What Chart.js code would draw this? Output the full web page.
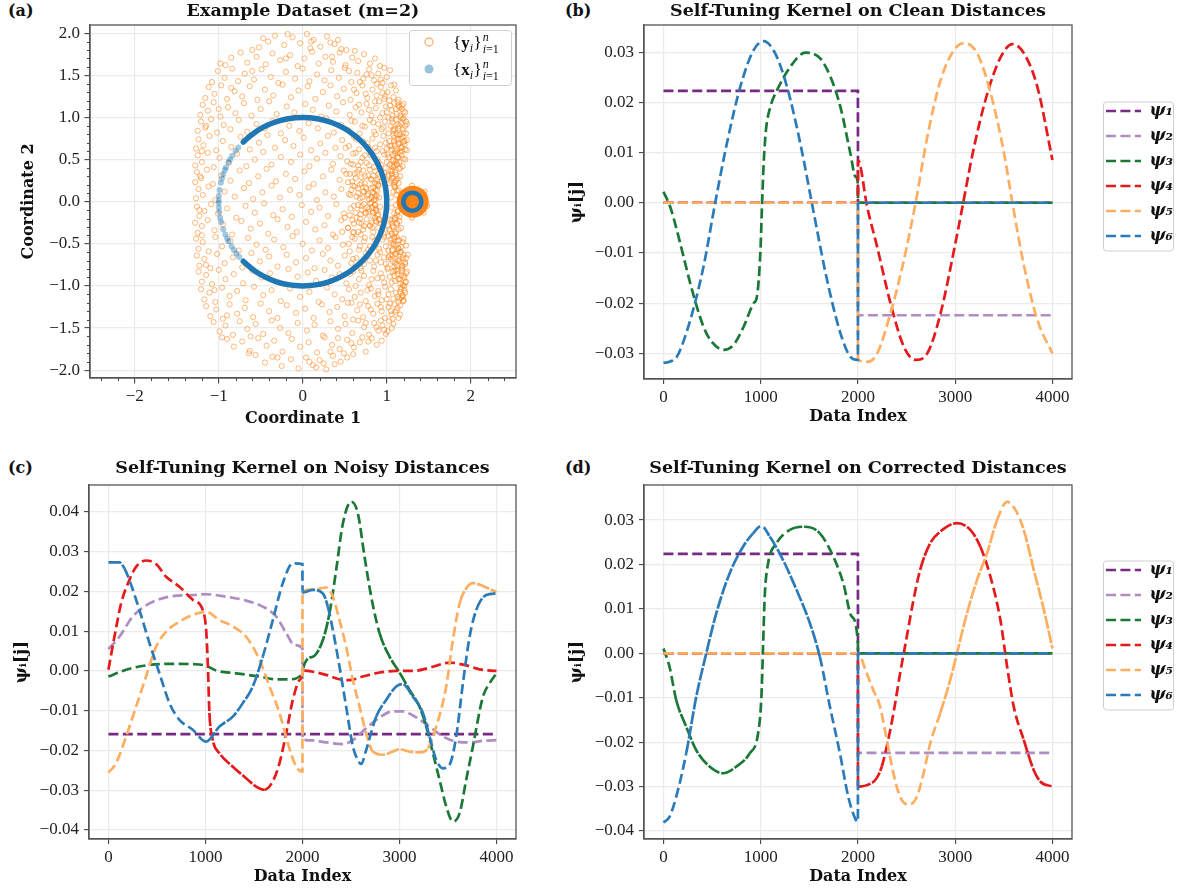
<!DOCTYPE html>
<html><head><meta charset="utf-8">
<script src="https://cdn.jsdelivr.net/npm/chart.js@4.4.0/dist/chart.umd.min.js"></script>
<style>
html,body{margin:0;padding:0;background:#fff;width:1178px;height:890px;overflow:hidden}
canvas{position:absolute}
.plab{position:absolute;font:bold 16px 'DejaVu Serif',serif;color:#111;line-height:19px}
</style></head><body>
<div class="plab" style="left:8px;top:1px">(a)</div>
<div class="plab" style="left:565px;top:1px">(b)</div>
<div class="plab" style="left:8px;top:458px">(c)</div>
<div class="plab" style="left:565px;top:458px">(d)</div>
<canvas id="ca" width="560" height="445" style="left:0;top:0"></canvas>
<canvas id="cb" width="618" height="445" style="left:560px;top:0"></canvas>
<canvas id="cc" width="560" height="445" style="left:0;top:445px"></canvas>
<canvas id="cd" width="618" height="445" style="left:560px;top:445px"></canvas>
<script>
// ---------------- DATA ----------------
// Panel (a): noisy points y_i
const yCloud = [
[-0.52,1.83],[-0.41,1.9],[-0.33,1.97],[-0.22,1.86],[-0.12,1.95],[-0.03,1.88],[0.05,1.99],[0.13,1.92],[0.21,1.84],[0.29,1.96],[0.38,1.87],[0.46,1.81],[-0.6,1.8],[-0.18,1.99],[0.09,1.82],[0.33,1.89],[0.52,1.8],[-0.47,1.94],
[-0.92,1.62],[-0.85,1.71],[-0.74,1.77],[-0.66,1.65],[-0.55,1.72],[-0.44,1.63],[-0.36,1.76],[-0.27,1.68],[-0.15,1.74],[-0.06,1.61],[0.02,1.7],[0.11,1.78],[0.19,1.64],[0.27,1.72],[0.36,1.66],[0.44,1.77],[0.51,1.62],[0.59,1.71],[0.66,1.67],[0.73,1.75],[0.8,1.64],[0.86,1.7],[0.92,1.61],[0.62,1.79],[-0.98,1.64],
[-1.08,1.42],[-1.01,1.55],[-0.93,1.47],[-0.84,1.58],[-0.77,1.43],[-0.69,1.52],[-0.58,1.45],[-0.49,1.57],[-0.38,1.48],[-0.29,1.41],[-0.2,1.54],[-0.09,1.46],[0.0,1.58],[0.08,1.43],[0.17,1.51],[0.26,1.44],[0.34,1.56],[0.43,1.47],[0.5,1.59],[0.58,1.42],[0.65,1.53],[0.72,1.46],[0.79,1.57],[0.85,1.44],[0.9,1.52],[0.95,1.41],[1.0,1.48],[1.04,1.56],[0.97,1.59],[0.88,1.4],[0.76,1.51],
[-1.16,1.23],[-1.12,1.36],[-1.05,1.28],[-0.97,1.38],[-0.9,1.22],[-0.81,1.31],[-0.72,1.25],[-0.63,1.37],[-0.54,1.21],[-0.45,1.33],[-0.35,1.26],[-0.24,1.39],[-0.14,1.24],[-0.05,1.32],[0.06,1.37],[0.15,1.22],[0.24,1.3],[0.33,1.38],[0.41,1.25],[0.49,1.34],[0.57,1.21],[0.64,1.29],[0.71,1.38],[0.77,1.23],[0.83,1.33],[0.88,1.26],[0.93,1.36],[0.97,1.22],[1.01,1.3],[1.05,1.38],[1.08,1.24],[1.11,1.32],[1.14,1.21],[1.03,1.2],[0.95,1.29],[1.09,1.39],
[-1.22,1.03],[-1.19,1.15],[-1.13,1.08],[-1.06,1.18],[-0.98,1.01],[-0.89,1.12],[-0.8,1.05],[-0.7,1.17],[-0.61,1.02],[-0.5,1.1],[-0.4,1.19],[-0.31,1.04],[-0.19,1.13],[-0.1,1.06],[0.03,1.16],[0.12,1.09],[0.22,1.01],[0.31,1.14],[0.4,1.07],[0.48,1.18],[0.56,1.03],[0.63,1.12],[0.7,1.06],[0.76,1.16],[0.82,1.02],[0.87,1.11],[0.91,1.19],[0.95,1.05],[0.99,1.13],[1.02,1.0],[1.06,1.09],[1.09,1.17],[1.12,1.04],[1.15,1.12],[1.17,1.0],[1.13,1.18],[1.2,1.07],[1.07,1.02],[1.18,1.14],[1.11,1.1],
[-1.25,0.84],[-1.21,0.95],[-1.16,0.88],[-1.09,0.98],[-1.02,0.82],[-0.94,0.91],[-0.86,0.86],[-0.76,0.97],[-0.66,0.83],[-0.55,0.92],[-0.45,0.87],[-0.36,0.96],[-0.26,0.81],[-0.16,0.9],[-0.04,0.84],[0.07,0.93],[0.18,0.87],[0.28,0.99],[0.37,0.82],[0.46,0.91],[0.54,0.85],[0.62,0.95],[0.68,0.81],[0.74,0.89],[0.8,0.97],[0.85,0.83],[0.9,0.92],[0.94,0.86],[0.98,0.95],[1.02,0.81],[1.05,0.9],[1.08,0.84],[1.11,0.97],[1.14,0.87],[1.17,0.93],[1.2,0.82],[1.22,0.9],[1.16,0.8],[1.13,0.92],[1.19,0.98],[1.1,0.86],[1.23,0.95],[1.07,0.94],
[-1.27,0.63],[-1.24,0.74],[-1.18,0.67],[-1.11,0.78],[-1.03,0.61],[-0.95,0.72],[-0.85,0.65],[-0.74,0.77],[-0.63,0.62],[-0.52,0.7],[-0.42,0.79],[-0.33,0.64],[-0.21,0.73],[-0.11,0.66],[0.01,0.76],[0.1,0.61],[0.21,0.69],[0.3,0.78],[0.39,0.64],[0.47,0.73],[0.55,0.66],[0.61,0.77],[0.67,0.62],[0.72,0.71],[0.78,0.65],[0.83,0.75],[0.88,0.6],[0.92,0.68],[0.96,0.78],[1.0,0.63],[1.03,0.72],[1.06,0.66],[1.09,0.76],[1.12,0.61],[1.14,0.7],[1.17,0.64],[1.19,0.77],[1.21,0.68],[1.24,0.73],[1.15,0.79],[1.1,0.68],[1.18,0.6],[1.22,0.62],[1.13,0.74],[1.2,0.71],
[-1.28,0.43],[-1.25,0.55],[-1.2,0.47],[-1.13,0.58],[-1.06,0.41],[-0.99,0.52],[-0.88,0.46],[-0.78,0.57],[-0.67,0.42],[-0.57,0.5],[-0.47,0.59],[-0.37,0.44],[-0.26,0.53],[-0.14,0.47],[-0.03,0.56],[0.08,0.42],[0.17,0.51],[0.27,0.58],[0.36,0.45],[0.45,0.54],[0.53,0.48],[0.6,0.57],[0.66,0.43],[0.71,0.52],[0.76,0.46],[0.81,0.55],[0.85,0.41],[0.89,0.5],[0.93,0.44],[0.97,0.56],[1.0,0.47],[1.03,0.53],[1.06,0.42],[1.08,0.5],[1.1,0.57],[1.12,0.45],[1.14,0.52],[1.16,0.4],[1.18,0.55],[1.11,0.48],[1.13,0.58],[1.09,0.43],[1.15,0.47],[1.07,0.55],[1.2,0.51],
[-1.28,0.23],[-1.26,0.35],[-1.21,0.28],[-1.14,0.38],[-1.07,0.21],[-0.97,0.31],[-0.86,0.25],[-0.75,0.37],[-0.64,0.22],[-0.53,0.3],[-0.43,0.39],[-0.32,0.24],[-0.2,0.33],[-0.09,0.27],[0.02,0.36],[0.13,0.21],[0.24,0.3],[0.34,0.38],[0.44,0.26],[0.52,0.33],[0.59,0.24],[0.65,0.35],[0.7,0.29],[0.74,0.22],[0.78,0.31],[0.82,0.26],[0.86,0.36],[0.88,0.21],[0.91,0.29],[0.94,0.24],[0.97,0.34],[1.02,0.3],[1.05,0.25],[1.07,0.37],[1.09,0.2],[1.11,0.32],[1.13,0.27],[1.15,0.39],[1.06,0.33],[1.1,0.23],[1.08,0.28],[0.8,0.38],[0.68,0.2],[0.9,0.33],
[-1.27,0.04],[-1.24,0.15],[-1.19,0.08],[-1.12,0.18],[-1.04,0.02],[-0.93,0.12],[-0.81,0.06],[-0.7,0.16],[-0.59,0.03],[-0.48,0.11],[-0.37,0.19],[-0.27,0.05],[-0.15,0.14],[-0.04,0.08],[0.07,0.17],[0.17,0.02],[0.27,0.11],[0.37,0.06],[0.46,0.15],[0.55,0.09],[0.62,0.18],[0.68,0.04],[0.73,0.12],[0.77,0.07],[0.81,0.16],[0.85,0.1],[0.87,0.03],[0.89,0.13],[0.9,0.19],[0.88,0.07],[0.91,0.05],[1.05,0.05],[1.08,0.12],[1.1,0.17],[1.12,0.08],[1.14,0.14],[1.16,0.03],
[-1.26,-0.06],[-1.23,-0.17],[-1.17,-0.11],[-1.09,-0.03],[-1.01,-0.14],[-0.9,-0.08],[-0.79,-0.19],[-0.68,-0.05],[-0.57,-0.13],[-0.46,-0.02],[-0.35,-0.16],[-0.24,-0.09],[-0.13,-0.18],[-0.01,-0.04],[0.1,-0.12],[0.2,-0.07],[0.3,-0.17],[0.4,-0.03],[0.49,-0.14],[0.57,-0.08],[0.64,-0.19],[0.7,-0.05],[0.75,-0.13],[0.79,-0.09],[0.83,-0.17],[0.86,-0.04],[0.88,-0.11],[0.9,-0.15],[0.87,-0.08],[0.92,-0.06],[1.06,-0.07],[1.09,-0.14],[1.11,-0.04],[1.13,-0.11],[1.15,-0.18],[1.12,-0.16],
[-1.28,-0.25],[-1.25,-0.37],[-1.2,-0.29],[-1.13,-0.22],[-1.05,-0.34],[-0.95,-0.27],[-0.84,-0.39],[-0.73,-0.23],[-0.62,-0.32],[-0.51,-0.26],[-0.41,-0.38],[-0.3,-0.21],[-0.18,-0.3],[-0.07,-0.36],[0.04,-0.24],[0.15,-0.33],[0.26,-0.28],[0.36,-0.39],[0.46,-0.22],[0.54,-0.31],[0.61,-0.37],[0.67,-0.25],[0.72,-0.33],[0.76,-0.21],[0.8,-0.29],[0.84,-0.36],[0.87,-0.23],[0.9,-0.31],[0.93,-0.26],[0.96,-0.38],[1.01,-0.28],[1.04,-0.35],[1.06,-0.22],[1.08,-0.3],[1.1,-0.38],[1.12,-0.25],[1.14,-0.33],[1.07,-0.26],[1.09,-0.21],[0.82,-0.25],[0.69,-0.39],[0.91,-0.22],
[-1.27,-0.44],[-1.24,-0.56],[-1.19,-0.48],[-1.12,-0.59],[-1.04,-0.42],[-0.96,-0.53],[-0.86,-0.47],[-0.76,-0.58],[-0.65,-0.43],[-0.55,-0.51],[-0.44,-0.57],[-0.34,-0.45],[-0.23,-0.54],[-0.12,-0.41],[0.0,-0.5],[0.11,-0.58],[0.2,-0.46],[0.3,-0.55],[0.39,-0.42],[0.48,-0.51],[0.56,-0.59],[0.62,-0.44],[0.68,-0.53],[0.73,-0.47],[0.78,-0.57],[0.83,-0.42],[0.87,-0.5],[0.91,-0.56],[0.95,-0.45],[0.99,-0.53],[1.02,-0.41],[1.05,-0.49],[1.07,-0.57],[1.09,-0.44],[1.11,-0.52],[1.13,-0.59],[1.15,-0.46],[1.17,-0.54],[1.12,-0.42],[1.08,-0.51],[1.14,-0.56],[1.19,-0.48],[1.06,-0.58],
[-1.26,-0.64],[-1.23,-0.76],[-1.17,-0.68],[-1.1,-0.79],[-1.02,-0.62],[-0.93,-0.73],[-0.83,-0.66],[-0.72,-0.78],[-0.61,-0.61],[-0.51,-0.71],[-0.4,-0.65],[-0.3,-0.77],[-0.19,-0.63],[-0.08,-0.72],[0.04,-0.67],[0.14,-0.79],[0.24,-0.62],[0.33,-0.7],[0.42,-0.76],[0.5,-0.64],[0.58,-0.73],[0.64,-0.67],[0.69,-0.79],[0.75,-0.61],[0.8,-0.7],[0.85,-0.77],[0.89,-0.63],[0.93,-0.72],[0.97,-0.66],[1.01,-0.78],[1.04,-0.64],[1.07,-0.71],[1.1,-0.62],[1.12,-0.75],[1.15,-0.68],[1.18,-0.79],[1.2,-0.63],[1.22,-0.72],[1.16,-0.6],[1.13,-0.7],[1.19,-0.76],[1.09,-0.77],[1.23,-0.67],
[-1.24,-0.83],[-1.2,-0.95],[-1.15,-0.87],[-1.08,-0.98],[-1.0,-0.81],[-0.92,-0.92],[-0.82,-0.86],[-0.71,-0.97],[-0.6,-0.82],[-0.49,-0.9],[-0.39,-0.85],[-0.28,-0.96],[-0.17,-0.8],[-0.06,-0.89],[0.06,-0.84],[0.16,-0.94],[0.26,-0.81],[0.35,-0.9],[0.44,-0.86],[0.52,-0.97],[0.6,-0.83],[0.67,-0.92],[0.73,-0.88],[0.79,-0.99],[0.84,-0.82],[0.89,-0.91],[0.93,-0.85],[0.97,-0.96],[1.01,-0.8],[1.04,-0.89],[1.07,-0.83],[1.1,-0.94],[1.13,-0.86],[1.16,-0.97],[1.18,-0.81],[1.21,-0.9],[1.23,-0.85],[1.19,-0.99],[1.14,-0.92],[1.22,-0.96],[1.17,-0.88],[1.11,-0.81],
[-1.21,-1.04],[-1.17,-1.16],[-1.11,-1.08],[-1.04,-1.19],[-0.96,-1.02],[-0.87,-1.12],[-0.78,-1.06],[-0.68,-1.17],[-0.58,-1.01],[-0.47,-1.11],[-0.37,-1.05],[-0.26,-1.18],[-0.15,-1.03],[-0.03,-1.13],[0.08,-1.07],[0.19,-1.19],[0.29,-1.02],[0.38,-1.1],[0.47,-1.16],[0.55,-1.04],[0.62,-1.13],[0.69,-1.08],[0.75,-1.18],[0.81,-1.03],[0.86,-1.12],[0.9,-1.06],[0.94,-1.17],[0.98,-1.01],[1.02,-1.1],[1.05,-1.04],[1.08,-1.15],[1.11,-1.08],[1.14,-1.19],[1.17,-1.02],[1.19,-1.11],[1.16,-1.07],[1.2,-1.17],[1.13,-1.13],[1.21,-1.05],[1.18,-1.14],
[-1.15,-1.24],[-1.1,-1.36],[-1.03,-1.28],[-0.95,-1.39],[-0.87,-1.22],[-0.78,-1.33],[-0.69,-1.26],[-0.59,-1.37],[-0.5,-1.21],[-0.4,-1.3],[-0.3,-1.38],[-0.19,-1.23],[-0.08,-1.32],[0.03,-1.27],[0.13,-1.38],[0.23,-1.22],[0.32,-1.31],[0.41,-1.25],[0.5,-1.36],[0.58,-1.2],[0.65,-1.29],[0.72,-1.37],[0.78,-1.24],[0.84,-1.33],[0.89,-1.21],[0.94,-1.3],[0.98,-1.38],[1.02,-1.25],[1.06,-1.34],[1.09,-1.22],[1.12,-1.29],[1.14,-1.38],[1.16,-1.23],[1.1,-1.31],[1.07,-1.39],[1.13,-1.26],[1.04,-1.21],[1.16,-1.34],
[-1.06,-1.43],[-0.99,-1.54],[-0.92,-1.47],[-0.83,-1.58],[-0.75,-1.42],[-0.66,-1.51],[-0.56,-1.45],[-0.47,-1.57],[-0.37,-1.41],[-0.27,-1.5],[-0.17,-1.56],[-0.06,-1.44],[0.05,-1.53],[0.14,-1.46],[0.24,-1.59],[0.33,-1.42],[0.42,-1.51],[0.51,-1.45],[0.59,-1.56],[0.66,-1.41],[0.73,-1.49],[0.79,-1.58],[0.85,-1.44],[0.9,-1.53],[0.95,-1.47],[0.99,-1.57],[1.03,-1.42],[1.06,-1.5],[1.01,-1.54],[0.93,-1.41],[1.08,-1.45],
[-0.9,-1.63],[-0.82,-1.72],[-0.72,-1.66],[-0.63,-1.77],[-0.53,-1.62],[-0.43,-1.71],[-0.34,-1.65],[-0.24,-1.78],[-0.13,-1.63],[-0.03,-1.72],[0.07,-1.67],[0.17,-1.79],[0.26,-1.61],[0.35,-1.7],[0.44,-1.75],[0.53,-1.64],[0.61,-1.73],[0.68,-1.67],[0.75,-1.78],[0.82,-1.62],[0.88,-1.7],[0.94,-1.65],[0.71,-1.61],[-0.96,-1.61],
[-0.56,-1.82],[-0.45,-1.91],[-0.36,-1.84],[-0.25,-1.95],[-0.14,-1.87],[-0.05,-1.98],[0.04,-1.85],[0.12,-1.94],[0.2,-1.88],[0.28,-1.99],[0.36,-1.83],[0.45,-1.9],[0.53,-1.85],[0.6,-1.81],[-0.64,-1.8],[0.16,-1.97],[0.25,-1.92]
];
// extra y_i points, mostly on the right half
const yCloudExtra = [
[0.35,1.72],[0.55,1.55],[0.68,1.42],[0.82,1.5],[0.93,1.45],[0.61,1.33],[0.75,1.28],[0.86,1.19],[0.98,1.25],[1.04,1.14],[0.67,1.15],[0.79,1.09],[0.92,1.0],[1.0,1.06],[0.58,0.96],[0.71,0.9],[0.84,0.94],[0.96,0.88],[1.06,0.98],[0.64,0.74],[0.77,0.69],[0.87,0.8],[0.99,0.7],[1.08,0.79],[0.51,0.64],[0.63,0.58],[0.74,0.55],[0.86,0.64],[0.95,0.6],[0.57,0.45],[0.69,0.47],[0.79,0.43],[0.9,0.47],[0.99,0.4],[0.62,0.33],[0.72,0.37],[0.84,0.31],[0.93,0.37],[0.58,0.14],[0.66,0.1],[0.75,0.17],[0.61,-0.05],[0.69,-0.15],[0.78,-0.12],[0.59,-0.22],[0.7,-0.26],[0.83,-0.31],[0.94,-0.34],[0.6,-0.36],[0.74,-0.43],[0.86,-0.46],[0.97,-0.42],[0.55,-0.5],[0.67,-0.57],[0.8,-0.53],[0.92,-0.6],[1.02,-0.66],[0.6,-0.68],[0.73,-0.74],[0.87,-0.7],[0.99,-0.74],[1.09,-0.82],[0.56,-0.86],[0.7,-0.82],[0.82,-0.92],[0.95,-0.9],[1.06,-0.96],[0.63,-1.0],[0.77,-1.05],[0.9,-1.1],[1.0,-1.16],[0.54,-1.2],[0.68,-1.22],[0.81,-1.28],[0.93,-1.25],[1.05,-1.3],[0.6,-1.4],[0.75,-1.44],[0.88,-1.49],[0.97,-1.52],[0.42,-1.62],[0.58,-1.68],[0.78,-1.66],[0.33,-1.78],[0.49,-1.8],[-0.2,1.7],[-0.6,1.55],[-0.85,1.35],[-1.0,1.1],[-1.15,0.9],[-1.2,0.6],[-1.22,0.3],[-1.23,-0.1],[-1.2,-0.4],[-1.15,-0.75],[-1.05,-1.05],[-0.9,-1.35],[-0.62,-1.6],[-0.3,-1.85],[0.1,1.9],[0.42,1.92],[0.08,-1.9],[0.38,-1.93]
];
// Dense part of y_i near (1, 0): arms, arc and rays
const yCloudDense = [
[1.02,0.32],[1.05,0.36],[1.08,0.41],[1.1,0.35],[1.12,0.44],[1.04,0.44],[1.07,0.49],[1.13,0.53],[1.16,0.58],[1.1,0.6],[1.06,0.62],[1.18,0.65],[1.14,0.68],[1.21,0.72],[1.17,0.75],[1.12,0.8],[1.23,0.81],[1.19,0.86],[1.15,0.9],[1.24,0.92],[1.2,0.99],[1.16,1.02],[1.22,1.06],[1.18,1.1],[1.2,1.16],[1.14,1.14],[1.09,0.72],[1.04,0.66],[1.08,0.86],[1.01,0.56],[1.11,0.25],[1.09,0.18],[1.12,0.13],[1.14,0.22],[1.06,0.28],[1.03,0.22],[1.16,0.3],[1.19,0.42],[1.22,0.5],[1.24,0.61],
[1.03,-0.33],[1.06,-0.38],[1.09,-0.42],[1.11,-0.36],[1.13,-0.46],[1.05,-0.45],[1.08,-0.5],[1.14,-0.55],[1.17,-0.6],[1.11,-0.62],[1.07,-0.64],[1.19,-0.67],[1.15,-0.7],[1.22,-0.74],[1.18,-0.77],[1.13,-0.82],[1.24,-0.83],[1.2,-0.88],[1.16,-0.92],[1.23,-0.95],[1.21,-1.0],[1.17,-1.04],[1.22,-1.08],[1.19,-1.12],[1.2,-1.18],[1.15,-1.15],[1.1,-0.73],[1.05,-0.68],[1.09,-0.88],[1.02,-0.58],[1.12,-0.26],[1.1,-0.19],[1.13,-0.12],[1.15,-0.23],[1.07,-0.29],[1.04,-0.21],[1.17,-0.31],[1.2,-0.44],[1.23,-0.52],[1.25,-0.63],
[0.86,0.22],[0.84,0.17],[0.83,0.11],[0.82,0.05],[0.82,-0.01],[0.83,-0.07],[0.84,-0.13],[0.86,-0.19],[0.88,-0.24],[0.89,0.26],[0.87,0.14],[0.86,0.06],[0.86,-0.04],[0.87,-0.1],[0.89,-0.16],[0.85,0.02],[0.9,0.2],[0.91,-0.21],
[0.78,0.09],[0.72,0.12],[0.66,0.16],[0.6,0.19],[0.54,0.23],[0.76,0.15],[0.7,0.22],[0.63,0.28],[0.56,0.33],[0.49,0.37],[0.79,0.03],[0.71,0.05],[0.64,0.06],[0.57,0.08],[0.77,-0.07],[0.7,-0.1],[0.63,-0.13],[0.56,-0.16],[0.5,-0.19],[0.75,-0.14],[0.68,-0.2],[0.61,-0.26],[0.54,-0.31],[0.47,-0.36],[0.8,-0.02],[0.73,-0.03],[0.66,-0.04],[0.74,0.3],[0.67,0.38],[0.6,0.44],[0.73,-0.29],[0.66,-0.36],[0.59,-0.42],[0.81,0.27],[0.8,-0.28],
[1.17,0.06],[1.18,-0.04],[1.2,0.1],[1.2,-0.1],[1.45,0.12],[1.48,-0.05],[1.44,-0.13],[1.3,0.19],[1.3,-0.19]
];
// orange blob centres around the small circle
const yBlob = [[1.31,0],[1.2,0]];
// Clean points x_i: densely sampled arc of the unit circle
const xArc = [
[-0.7071,0.7071],[-0.6428,0.766],[-0.5736,0.8192],[-0.5,0.866],[-0.4226,0.9063],[-0.342,0.9397],[-0.2588,0.9659],[-0.1736,0.9848],[-0.0872,0.9962],[0,1],[0.0872,0.9962],[0.1736,0.9848],[0.2588,0.9659],[0.342,0.9397],[0.4226,0.9063],[0.5,0.866],[0.5736,0.8192],[0.6428,0.766],[0.7071,0.7071],[0.766,0.6428],[0.8192,0.5736],[0.866,0.5],[0.9063,0.4226],[0.9397,0.342],[0.9659,0.2588],[0.9848,0.1736],[0.9962,0.0872],[1,0],[0.9962,-0.0872],[0.9848,-0.1736],[0.9659,-0.2588],[0.9397,-0.342],[0.9063,-0.4226],[0.866,-0.5],[0.8192,-0.5736],[0.766,-0.6428],[0.7071,-0.7071],[0.6428,-0.766],[0.5736,-0.8192],[0.5,-0.866],[0.4226,-0.9063],[0.342,-0.9397],[0.2588,-0.9659],[0.1736,-0.9848],[0.0872,-0.9962],[0,-1],[-0.0872,-0.9962],[-0.1736,-0.9848],[-0.2588,-0.9659],[-0.342,-0.9397],[-0.4226,-0.9063],[-0.5,-0.866],[-0.5736,-0.8192],[-0.6428,-0.766],[-0.7071,-0.7071]
];
// sparse clean points on the left part of the circle
const xSparse = [
[-0.766,0.643],[-0.799,0.602],[-0.839,0.545],[-0.866,0.5],[-0.883,0.469],[-0.914,0.407],[-0.927,0.375],[-0.946,0.326],[-0.961,0.276],[-0.974,0.225],[-0.99,0.139],[-0.998,0.07],[-1.0,0.017],[-1.0,-0.017],[-0.998,-0.07],[-0.993,-0.122],[-0.982,-0.191],[-0.97,-0.242],[-0.946,-0.326],[-0.921,-0.391],[-0.899,-0.438],[-0.883,-0.469],[-0.848,-0.53],[-0.819,-0.574],[-0.788,-0.616],[-0.755,-0.656]
];
// small circle of clean points
const xSmall = [[1.305,0]];

const aTicksX = [-2,-1,0,1,2];
const aTicksY = [-2,-1.5,-1,-0.5,0,0.5,1,1.5,2];
const aMinorX = [-2.4,-2.2,-1.8,-1.6,-1.4,-1.2,-0.8,-0.6,-0.4,-0.2,0.2,0.4,0.6,0.8,1.2,1.4,1.6,1.8,2.2,2.4];
const aMinorY = [-1.9,-1.8,-1.7,-1.6,-1.4,-1.3,-1.2,-1.1,-0.9,-0.8,-0.7,-0.6,-0.4,-0.3,-0.2,-0.1,0.1,0.2,0.3,0.4,0.6,0.7,0.8,0.9,1.1,1.2,1.3,1.4,1.6,1.7,1.8,1.9];

// Panels (b)-(d): eigenvectors, [data index, value]
const idxTicks = [0,1000,2000,3000,4000];
const yTicksB = [-0.03,-0.02,-0.01,0,0.01,0.02,0.03];
const yTicksC = [-0.04,-0.03,-0.02,-0.01,0,0.01,0.02,0.03,0.04];
const yTicksD = [-0.04,-0.03,-0.02,-0.01,0,0.01,0.02,0.03];
const psiLabels = ['ψ₁','ψ₂','ψ₃','ψ₄','ψ₅','ψ₆'];

const clean1 = [[0,0.0223],[1999,0.0223],[2000,0],[3999,0]];
const clean2 = [[0,0],[1999,0],[2000,-0.0224],[3999,-0.0224]];
const clean3 = [[0,0.0022],[69,-0.0008],[137,-0.0054],[206,-0.0107],[275,-0.016],[343,-0.0207],[412,-0.0247],[481,-0.0273],[618,-0.0293],[721,-0.0283],[824,-0.0247],[927,-0.02],[961,-0.0187],[996,-0.01],[1013,-0.0008],[1030,0.0078],[1054,0.0145],[1099,0.0191],[1167,0.0224],[1305,0.0271],[1459,0.0299],[1614,0.0287],[1716,0.0251],[1819,0.0191],[1922,0.0098],[1974,0.0052],[1999,0.0038],[2000,0],[3999,0]];
const clean4 = [[0,0],[1999,0],[2000,0.0085],[2094,-0.0008],[2197,-0.0088],[2334,-0.02],[2472,-0.0287],[2592,-0.0313],[2712,-0.03],[2849,-0.022],[3021,-0.0061],[3193,0.0111],[3330,0.0218],[3467,0.029],[3587,0.0316],[3708,0.0297],[3845,0.023],[3999,0.0085]];
const clean5 = [[0,0],[1999,0],[2000,-0.0313],[2094,-0.0317],[2197,-0.03],[2334,-0.022],[2472,-0.0114],[2592,0],[2712,0.0131],[2849,0.0244],[2987,0.0304],[3090,0.0318],[3227,0.0297],[3364,0.0218],[3502,0.0098],[3587,0],[3708,-0.0127],[3845,-0.0234],[3999,-0.03]];
const clean6 = [[0,-0.0319],[69,-0.0316],[137,-0.0307],[275,-0.0234],[412,-0.0127],[532,0],[652,0.0118],[790,0.0231],[927,0.0304],[1030,0.0322],[1150,0.0297],[1270,0.0231],[1407,0.0118],[1545,-0.002],[1682,-0.0154],[1820,-0.026],[1922,-0.0307],[1999,-0.0313],[2000,0],[3999,0]];

const noisy1 = [[0,-0.0159],[3999,-0.0159]];
const noisy2 = [[0,0.0055],[113,0.0086],[251,0.0137],[423,0.017],[629,0.0187],[869,0.0191],[1007,0.0193],[1213,0.0187],[1419,0.0177],[1591,0.0162],[1729,0.0137],[1832,0.0095],[1918,0.0065],[1999,0.0057],[2000,-0.0172],[2107,-0.0175],[2244,-0.018],[2416,-0.0184],[2519,-0.0174],[2656,-0.0144],[2794,-0.0117],[2931,-0.0102],[3034,-0.0102],[3172,-0.0117],[3309,-0.014],[3447,-0.0165],[3584,-0.0178],[3722,-0.018],[3859,-0.0176],[3999,-0.0174]];
const noisy3 = [[0,-0.0014],[182,0.0003],[388,0.0014],[629,0.0018],[869,0.0017],[1007,0.0013],[1110,0.0001],[1316,-0.0006],[1557,-0.0014],[1729,-0.0021],[1866,-0.0021],[1999,-0.0006],[2000,0.0001],[2107,0.0036],[2210,0.0078],[2278,0.0145],[2347,0.0254],[2416,0.0371],[2502,0.0426],[2570,0.0397],[2639,0.0288],[2708,0.0187],[2794,0.0095],[2897,0.0036],[3000,-0.0004],[3103,-0.0048],[3206,-0.009],[3275,-0.014],[3344,-0.0207],[3412,-0.0274],[3481,-0.0341],[3550,-0.0379],[3619,-0.0358],[3687,-0.0274],[3756,-0.019],[3859,-0.0065],[3928,-0.0031],[3999,-0.0006]];
const noisy4 = [[0,0.0003],[62,0.0086],[131,0.017],[216,0.0229],[285,0.0262],[388,0.0278],[491,0.0269],[595,0.0237],[732,0.0212],[869,0.0179],[973,0.0153],[1007,0.0103],[1024,0.0019],[1041,-0.0106],[1076,-0.0174],[1144,-0.0207],[1282,-0.0241],[1419,-0.027],[1522,-0.0291],[1608,-0.0299],[1694,-0.0278],[1763,-0.0232],[1832,-0.0157],[1900,-0.0073],[1969,-0.0023],[1999,-0.0006],[2000,0.0001],[2107,-0.0002],[2244,-0.001],[2381,-0.0021],[2485,-0.0023],[2622,-0.0014],[2794,-0.0004],[2966,0],[3137,0],[3309,0.0008],[3515,0.0021],[3687,0.0014],[3825,0.0004],[3999,0]];
const noisy5 = [[0,-0.0256],[79,-0.0232],[182,-0.0165],[285,-0.009],[388,-0.0014],[491,0.0061],[595,0.0099],[732,0.0124],[869,0.0141],[1007,0.0149],[1144,0.0128],[1282,0.0112],[1419,0.0086],[1557,0.0028],[1660,-0.0039],[1763,-0.0106],[1849,-0.0182],[1935,-0.0241],[1999,-0.0253],[2000,0.02],[2107,0.0205],[2244,0.021],[2313,0.0187],[2381,0.0128],[2450,0.0061],[2519,-0.0023],[2588,-0.009],[2656,-0.0157],[2725,-0.0203],[2828,-0.0211],[2931,-0.0203],[3000,-0.0197],[3103,-0.0203],[3206,-0.0205],[3292,-0.0195],[3378,-0.014],[3481,-0.0039],[3550,0.0078],[3619,0.017],[3687,0.0208],[3756,0.0221],[3859,0.0214],[3999,0.0198]];
const noisy6 = [[0,0.0273],[113,0.0273],[165,0.0258],[216,0.0229],[320,0.0153],[423,0.007],[526,-0.0006],[629,-0.0081],[732,-0.0123],[869,-0.0148],[1007,-0.0178],[1144,-0.014],[1282,-0.0115],[1385,-0.0081],[1488,-0.0039],[1591,0.0036],[1694,0.0128],[1797,0.0221],[1900,0.0271],[1999,0.0269],[2000,0.0197],[2107,0.0204],[2210,0.0195],[2261,0.0162],[2313,0.0103],[2381,0.0011],[2450,-0.009],[2519,-0.019],[2570,-0.0224],[2605,-0.0234],[2656,-0.0199],[2759,-0.0115],[2862,-0.0073],[2966,-0.0039],[3034,-0.0033],[3137,-0.0065],[3241,-0.0106],[3309,-0.0165],[3378,-0.0224],[3447,-0.0245],[3515,-0.0236],[3584,-0.0165],[3653,-0.0031],[3722,0.0086],[3790,0.0153],[3893,0.0191],[3999,0.0195]];

const corr1 = [[0,0.0224],[1999,0.0224],[2000,0],[3999,0]];
const corr2 = [[0,0],[1999,0],[2000,-0.0224],[3999,-0.0224]];
const corr3 = [[0,0.0011],[62,-0.003],[131,-0.0105],[234,-0.0165],[337,-0.0218],[474,-0.0255],[612,-0.027],[749,-0.0255],[887,-0.0225],[973,-0.018],[1007,-0.0098],[1024,0.0015],[1041,0.0128],[1076,0.0203],[1162,0.0248],[1299,0.0278],[1454,0.0285],[1608,0.027],[1746,0.0218],[1849,0.0158],[1935,0.0083],[1999,0.0023],[2000,0],[3999,0]];
const corr4 = [[0,0],[1999,0],[2000,-0.03],[2124,-0.0294],[2192,-0.0281],[2244,-0.0255],[2296,-0.021],[2364,-0.0135],[2433,-0.0045],[2502,0.0038],[2570,0.012],[2639,0.0188],[2742,0.0248],[2845,0.0274],[3017,0.0293],[3155,0.0278],[3258,0.024],[3361,0.0173],[3464,0.0075],[3533,-0.003],[3601,-0.012],[3704,-0.0195],[3807,-0.0263],[3876,-0.0289],[3999,-0.03]];
const corr5 = [[0,0],[1999,0],[2000,0],[2089,-0.0045],[2158,-0.0083],[2227,-0.012],[2296,-0.0195],[2364,-0.027],[2433,-0.0323],[2519,-0.0341],[2605,-0.0323],[2674,-0.027],[2742,-0.0203],[2845,-0.0135],[2948,-0.006],[3017,0],[3120,0.009],[3223,0.0165],[3326,0.0225],[3430,0.03],[3533,0.0341],[3619,0.0323],[3704,0.0278],[3807,0.0188],[3911,0.0098],[3999,0.0011]];
const corr6 = [[0,-0.0381],[62,-0.0368],[131,-0.0323],[234,-0.0225],[337,-0.0098],[440,0],[543,0.009],[680,0.018],[818,0.024],[921,0.027],[1007,0.0287],[1093,0.0263],[1230,0.021],[1368,0.0143],[1505,0.0068],[1608,-0.0008],[1711,-0.012],[1814,-0.0225],[1900,-0.0323],[1969,-0.0371],[1999,-0.0379],[2000,0],[3999,0]];

// index ranges where the jittery dashed curves look almost solid (style only)
const solidNoisy = [[], [], [[2000,2250],[2760,3280]], [[1050,1640]], [[2720,3280],[3640,4000]], [[0,170],[1000,1630],[2000,2270],[2800,3280],[3760,4000]]];
const solidCorr = [[], [], [[180,860],[1250,1650]], [[2000,2220],[2640,3260],[3720,4000]], [[2850,3480],[3700,4000]], [[260,960],[1060,1650]]];

// ---------------- STYLE ----------------
const psiColors = ['#762a83','#af8dc3','#1b7837','#e41a1c','#fdae61','#2b7bb9'];
const SERIF = "'Liberation Serif','Times New Roman',serif";
const BOLDF = "'DejaVu Serif',serif";
const TICK_FONT = {family: SERIF, size: 17};
const AX_FONT = {family: BOLDF, size: 16, weight: 'bold', lineHeight: 1.2};
const TITLE_FONT = {family: BOLDF, size: 17.5, weight: 'bold', lineHeight: 1.2};
const GRID = {color: '#ebebeb', lineWidth: 1.2, tickLength: 5, tickColor: '#444', tickWidth: 1.1, drawTicks: true};
const BORDER = {display: true, color: '#555', width: 1.3};
const DASH = [10, 4.4];
const DENSE_DASH = [13, 1.8];
Chart.defaults.color = '#111';

function fmt(v, d) { const s = Math.abs(v).toFixed(d); return (v < -1e-9 ? '\u2212' : '') + s; }

const frame = { id: 'frame', afterDraw(chart) {
  const {ctx, chartArea: a} = chart; ctx.save(); ctx.strokeStyle = '#555'; ctx.lineWidth = 1.3;
  ctx.strokeRect(a.left, a.top, a.right - a.left, a.bottom - a.top); ctx.restore(); } };

const legendPlace = { id: 'legendPlace',
  afterLayout(chart, args, o) {
    const lg = chart.legend; if (!lg || o.left === undefined) return;
    lg.left = o.left; lg.top = o.top; lg.width = 120; lg.height = 260; lg.right = o.left + 120; lg.bottom = o.top + 260;
  },
  beforeDraw(chart, args, o) {
    if (o.left === undefined) return;
    const c = chart.ctx; c.save();
    c.beginPath(); c.roundRect(o.left + 5.5, o.top + 7.5, 70, 149, 3);
    c.fillStyle = 'rgba(255,255,255,0.9)'; c.fill(); c.strokeStyle = '#cfcfcf'; c.lineWidth = 1; c.stroke(); c.restore();
  } };

function psiChart(id, series, solid, cfg) {
  return new Chart(document.getElementById(id), {
    type: 'line',
    data: { datasets: series.map((s, i) => ({
      label: psiLabels[i], data: s.map(p => ({x: p[0], y: p[1]})),
      borderColor: psiColors[i], backgroundColor: psiColors[i], borderWidth: 2.7, borderDash: DASH,
      segment: { borderDash: ctx => {
        const m = (ctx.p0.parsed.x + ctx.p1.parsed.x) / 2;
        return solid[i].some(r => m >= r[0] && m <= r[1]) ? DENSE_DASH : undefined; } },
      pointRadius: 0, cubicInterpolationMode: 'monotone', fill: false, order: 5 - i })) },
    options: {
      responsive: false, animation: false, devicePixelRatio: 1,
      layout: {padding: {left: 0, right: cfg.padRight, top: 0, bottom: 0}},
      plugins: {
        title: {display: true, text: cfg.title, fullSize: false, font: TITLE_FONT, color: '#111', padding: {top: cfg.tTop, bottom: cfg.tBot}},
        legend: cfg.legend ? {
          display: true, position: 'chartArea', align: 'start',
          labels: { usePointStyle: true, pointStyleWidth: 35, padding: 8, color: '#111',
            font: {family: BOLDF, size: 17, style: 'italic', weight: 'bold'},
            generateLabels: (chart) => chart.data.datasets.map((ds, i) => ({
              text: ds.label, fillStyle: ds.borderColor, strokeStyle: ds.borderColor, lineWidth: ds.borderWidth,
              lineDash: DASH, lineDashOffset: 0, lineCap: 'butt', pointStyle: 'line', rotation: 180,
              hidden: false, datasetIndex: i, fontColor: '#111' })) }
        } : {display: false},
        tooltip: {enabled: false},
        legendPlace: cfg.legend ? cfg.legend : {}
      },
      scales: {
        x: { type: 'linear', min: -200, max: 4200,
          afterBuildTicks: s => { s.ticks = idxTicks.map(v => ({value: v})); },
          afterFit: s => { s.height = cfg.xh; },
          ticks: {font: TICK_FONT, color: '#222', padding: 3, maxRotation: 0, autoSkip: false, callback: v => String(v)},
          grid: GRID, border: BORDER,
          title: {display: true, text: 'Data Index', font: AX_FONT, color: '#111', padding: {top: 0, bottom: cfg.xtb}} },
        y: { type: 'linear', min: cfg.ymin, max: cfg.ymax,
          afterBuildTicks: s => { s.ticks = cfg.yticks.map(v => ({value: v})); },
          afterFit: s => { s.width = cfg.yw; },
          ticks: {font: TICK_FONT, color: '#222', padding: 5, autoSkip: false, callback: v => fmt(v, 2)},
          grid: GRID, border: BORDER,
          title: {display: true, text: 'ψᵢ[j]', font: {family: BOLDF, size: 17, weight: 'bold', lineHeight: 1.2}, color: '#111', padding: {top: cfg.ytp, bottom: 0}} }
      }
    },
    plugins: [frame, legendPlace]
  });
}

// ---------------- PANEL (a) ----------------
const minorTicks = { id: 'minorTicks', afterDraw(chart) {
  const {ctx, chartArea: a, scales: {x, y}} = chart; ctx.save(); ctx.strokeStyle = '#444'; ctx.lineWidth = 1;
  ctx.beginPath();
  aMinorX.forEach(v => { const p = Math.round(x.getPixelForValue(v)) + 0.5; ctx.moveTo(p, a.bottom); ctx.lineTo(p, a.bottom + 3); });
  aMinorY.forEach(v => { const p = Math.round(y.getPixelForValue(v)) + 0.5; ctx.moveTo(a.left - 3, p); ctx.lineTo(a.left, p); });
  ctx.stroke(); ctx.restore(); } };

function setLabel(c, x, y, letter) {
  c.fillStyle = '#111'; c.textBaseline = 'alphabetic'; c.textAlign = 'left';
  const big = "17px " + SERIF, bigB = "bold 17px " + SERIF, sm = "italic 12px " + SERIF, smR = "12px " + SERIF;
  c.font = big; c.fillText('{', x, y); x += c.measureText('{').width;
  c.font = bigB; c.fillText(letter, x, y); x += c.measureText(letter).width;
  c.font = sm; c.fillText('i', x, y + 4); x += c.measureText('i').width + 0.5;
  c.font = big; c.fillText('}', x, y); x += c.measureText('}').width + 1;
  c.font = sm; c.fillText('n', x, y - 7);
  c.fillText('i', x, y + 5); const w = c.measureText('i').width;
  c.font = smR; c.fillText('=1', x + w, y + 5);
}
const legendA = { id: 'legendA', afterDraw(chart) {
  const c = chart.ctx, a = chart.chartArea; c.save();
  const L = a.right - 107, T = a.top + 5;
  c.beginPath(); c.roundRect(L + 0.5, T + 0.5, 102, 55, 3);
  c.fillStyle = 'rgba(255,255,255,0.85)'; c.fill(); c.strokeStyle = '#cfcfcf'; c.lineWidth = 1; c.stroke();
  c.beginPath(); c.arc(L + 20, T + 12, 4, 0, 2 * Math.PI); c.strokeStyle = 'rgba(255,127,14,0.6)'; c.lineWidth = 1.3; c.stroke();
  c.beginPath(); c.arc(L + 20, T + 39, 4.5, 0, 2 * Math.PI); c.fillStyle = 'rgba(31,119,180,0.45)'; c.fill();
  setLabel(c, L + 44, T + 18, 'y'); setLabel(c, L + 44, T + 45, 'x');
  c.restore(); } };

const pts = arr => arr.map(p => ({x: p[0], y: p[1]}));
const hollow = (arr, a, ord) => ({data: pts(arr), pointRadius: 2.6, pointBorderWidth: 1, pointBorderColor: 'rgba(255,127,14,' + a + ')', pointBackgroundColor: 'rgba(0,0,0,0)', order: ord});
new Chart(document.getElementById('ca'), {
  type: 'scatter',
  data: { datasets: [
    Object.assign({label: 'y'}, hollow(yCloud, 0.55, 7)),
    Object.assign({label: 'ye'}, hollow(yCloudExtra, 0.55, 6)),
    Object.assign({label: 'yd'}, hollow(yCloudDense, 0.6, 5)),
    {label: 'yb', data: pts(yBlob), pointRadius: [16, 7], pointBorderWidth: 0, pointBackgroundColor: 'rgba(255,127,14,0.95)', order: 4},
    {label: 'xs', data: pts(xSparse), pointRadius: 3, pointBorderWidth: 0, pointBackgroundColor: 'rgba(31,119,180,0.4)', order: 3},
    {label: 'x', data: pts(xArc), showLine: true, borderColor: '#1f77b4', borderWidth: 5.5, pointRadius: 0, tension: 0.3, borderCapStyle: 'round', order: 2},
    {label: 'xc', data: pts(xSmall), pointRadius: 9, pointBorderWidth: 4.5, pointBorderColor: '#1f77b4', pointBackgroundColor: 'rgba(0,0,0,0)', order: 1}
  ]},
  options: {
    responsive: false, animation: false, devicePixelRatio: 1,
    layout: {padding: {left: 0, right: 44, top: 0, bottom: 0}},
    plugins: {
      title: {display: true, text: 'Example Dataset (m=2)', fullSize: false, font: TITLE_FONT, color: '#111', padding: {top: 0.5, bottom: 3.5}},
      legend: {display: false}, tooltip: {enabled: false}
    },
    scales: {
      x: { type: 'linear', min: -2.532, max: 2.539,
        afterBuildTicks: s => { s.ticks = aTicksX.map(v => ({value: v})); },
        afterFit: s => { s.height = 67; },
        ticks: {font: TICK_FONT, color: '#222', padding: 3, maxRotation: 0, autoSkip: false, callback: v => fmt(v, 0)},
        grid: Object.assign({}, GRID, {tickLength: 5.5}), border: BORDER,
        title: {display: true, text: 'Coordinate 1', font: AX_FONT, color: '#111', padding: {top: 0, bottom: 16.4}} },
      y: { type: 'linear', min: -2.093, max: 2.097,
        afterBuildTicks: s => { s.ticks = aTicksY.map(v => ({value: v})); },
        afterFit: s => { s.width = 90; },
        ticks: {font: TICK_FONT, color: '#222', padding: 4.5, autoSkip: false, callback: v => fmt(v, 1)},
        grid: Object.assign({}, GRID, {tickLength: 5.5}), border: BORDER,
        title: {display: true, text: 'Coordinate 2', font: AX_FONT, color: '#111', padding: {top: 19.6, bottom: 0}} }
    }
  },
  plugins: [frame, minorTicks, legendA]
});

// ---------------- PANELS (b)-(d) ----------------
const noSolid = [[], [], [], [], [], []];
psiChart('cb', [clean1, clean2, clean3, clean4, clean5, clean6], noSolid, {
  title: 'Self-Tuning Kernel on Clean Distances', padRight: 106, tTop: 0.5, tBot: 3.5,
  xh: 66, xtb: 18.4, yw: 84, ytp: 6.3, ymin: -0.0351, ymax: 0.0354, yticks: yTicksB,
  legend: {left: 538, top: 94.5} });
psiChart('cc', [noisy1, noisy2, noisy3, noisy4, noisy5, noisy6], solidNoisy, {
  title: 'Self-Tuning Kernel on Noisy Distances', padRight: 44, tTop: 12.5, tBot: 6.5,
  xh: 51, xtb: 3.4, yw: 89, ytp: 11.3, ymin: -0.0423, ymax: 0.0468, yticks: yTicksC, legend: null });
psiChart('cd', [corr1, corr2, corr3, corr4, corr5, corr6], solidCorr, {
  title: 'Self-Tuning Kernel on Corrected Distances', padRight: 106, tTop: 12.5, tBot: 6.5,
  xh: 51, xtb: 3.4, yw: 84, ytp: 6.3, ymin: -0.0418, ymax: 0.0379, yticks: yTicksD,
  legend: {left: 538, top: 108.5} });
</script>
</body></html>
